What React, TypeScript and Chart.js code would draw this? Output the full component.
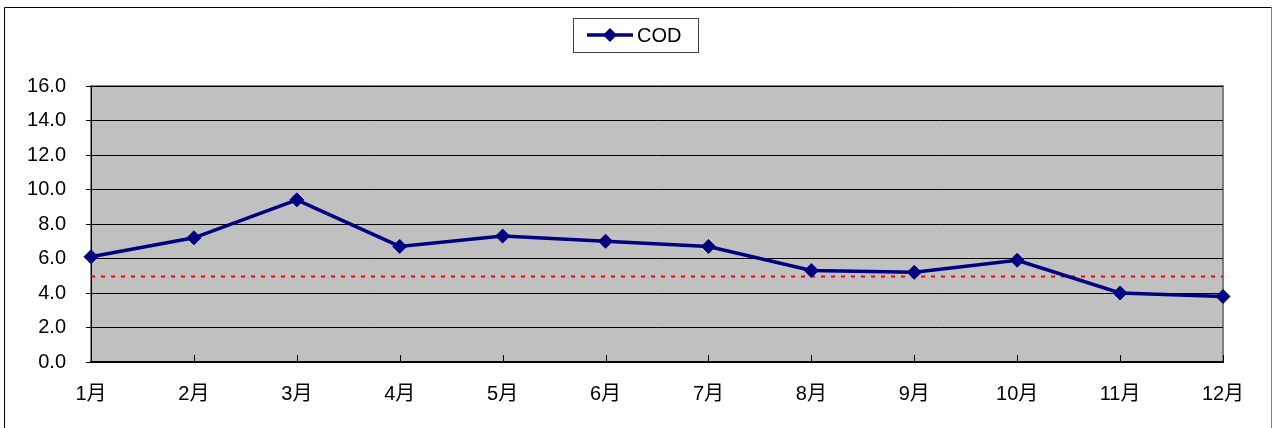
import React, { useEffect, useRef } from "react";
import { Chart, registerables } from "chart.js";

Chart.register(...registerables);

const categories = ["1月", "2月", "3月", "4月", "5月", "6月", "7月", "8月", "9月", "10月", "11月", "12月"];
const codValues = [6.1, 7.2, 9.4, 6.7, 7.3, 7.0, 6.7, 5.3, 5.2, 5.9, 4.0, 3.8];
const standardValue = 5.0;
const seriesName = "COD";
const yMin = 0;
const yMax = 16;
const yStep = 2;

const FONT = "'Liberation Sans', 'Noto Sans CJK JP', sans-serif";
const NAVY = "#000080";

const framePlugin = {
  id: "frame",
  beforeDraw(chart: any) {
    const { ctx, chartArea } = chart;
    const { left, top, right, bottom } = chartArea;
    ctx.save();
    ctx.lineWidth = 1;
    ctx.strokeStyle = "#000";
    ctx.beginPath();
    ctx.moveTo(4.5, 440);
    ctx.lineTo(4.5, 7.5);
    ctx.lineTo(1271.5, 7.5);
    ctx.stroke();
    ctx.strokeStyle = "#808080";
    ctx.beginPath();
    ctx.moveTo(1271.5, 7.5);
    ctx.lineTo(1271.5, 440);
    ctx.stroke();
    ctx.fillStyle = "#C0C0C0";
    ctx.fillRect(left, top, right - left, bottom - top);
    ctx.strokeStyle = "#808080";
    ctx.lineWidth = 2;
    ctx.strokeRect(left, top, right - left, bottom - top);
    ctx.restore();
  },
  beforeDatasetsDraw(chart: any) {
    const { ctx, chartArea, scales } = chart;
    const y = Math.round(scales.y.getPixelForValue(standardValue)) + 0.5;
    ctx.save();
    ctx.strokeStyle = "#FF0000";
    ctx.lineWidth = 2;
    ctx.setLineDash([4, 6]);
    ctx.beginPath();
    ctx.moveTo(chartArea.left, y);
    ctx.lineTo(chartArea.right, y);
    ctx.stroke();
    ctx.setLineDash([]);
    ctx.strokeStyle = "#000";
    ctx.lineWidth = 1;
    const xs = scales.x;
    for (let i = 0; i < categories.length; i++) {
      const px = Math.round(xs.getPixelForTick(i)) + 0.5;
      ctx.beginPath();
      ctx.moveTo(px, chartArea.bottom);
      ctx.lineTo(px, chartArea.bottom - 7);
      ctx.stroke();
    }
    ctx.restore();
  },
  afterDraw(chart: any) {
    const { ctx } = chart;
    ctx.save();
    ctx.fillStyle = "#fff";
    ctx.fillRect(573.5, 18.5, 125, 34);
    ctx.strokeStyle = "#404040";
    ctx.lineWidth = 1;
    ctx.strokeRect(573.5, 18.5, 125, 34);
    ctx.strokeStyle = NAVY;
    ctx.lineWidth = 3.5;
    ctx.beginPath();
    ctx.moveTo(587, 35);
    ctx.lineTo(633, 35);
    ctx.stroke();
    ctx.fillStyle = NAVY;
    ctx.beginPath();
    ctx.moveTo(610, 28);
    ctx.lineTo(617, 35);
    ctx.lineTo(610, 42);
    ctx.lineTo(603, 35);
    ctx.closePath();
    ctx.fill();
    ctx.fillStyle = "#000";
    ctx.font = `20px ${FONT}`;
    ctx.textBaseline = "middle";
    ctx.textAlign = "left";
    ctx.fillText(seriesName, 637, 36);
    ctx.restore();
  },
};

export default function App() {
  const ref = useRef<HTMLCanvasElement | null>(null);
  useEffect(() => {
    if (!ref.current) return;
    const chart = new Chart(ref.current, {
      type: "line",
      data: {
        labels: categories,
        datasets: [
          {
            label: seriesName,
            data: codValues,
            borderColor: NAVY,
            backgroundColor: NAVY,
            borderWidth: 3.5,
            pointStyle: "rectRot",
            pointRadius: 7,
            pointBorderWidth: 1,
            pointBackgroundColor: NAVY,
            pointBorderColor: NAVY,
            tension: 0,
            clip: false as any,
          },
        ],
      },
      options: {
        responsive: false,
        animation: false,
        layout: { padding: { left: 10, right: 51, top: 86, bottom: 0 } },
        plugins: { legend: { display: false }, tooltip: { enabled: false } },
        scales: {
          x: {
            offset: false,
            grid: { drawOnChartArea: false, drawTicks: false },
            border: { display: true, color: "#000", width: 2 },
            ticks: { color: "#000", font: { size: 20, family: FONT }, padding: 20, maxRotation: 0, autoSkip: false },
            afterFit(scale: any) {
              scale.height = 66;
            },
          },
          y: {
            min: yMin,
            max: yMax,
            grid: { color: "#000", lineWidth: 1, tickLength: 5, drawTicks: true },
            border: { display: true, color: "#000", width: 1 },
            ticks: {
              stepSize: yStep,
              color: "#000",
              padding: 20,
              font: { size: 20, family: FONT },
              callback: (v: any) => Number(v).toFixed(1),
            },
            afterFit(scale: any) {
              scale.width = 81;
            },
          },
        },
      },
      plugins: [framePlugin],
    });
    return () => chart.destroy();
  }, []);
  return (
    <div style={{ position: "absolute", left: 0, top: 0, width: 1274, height: 428, background: "#fff" }}>
      <canvas ref={ref} width={1274} height={428} style={{ display: "block", width: 1274, height: 428 }} />
    </div>
  );
}
